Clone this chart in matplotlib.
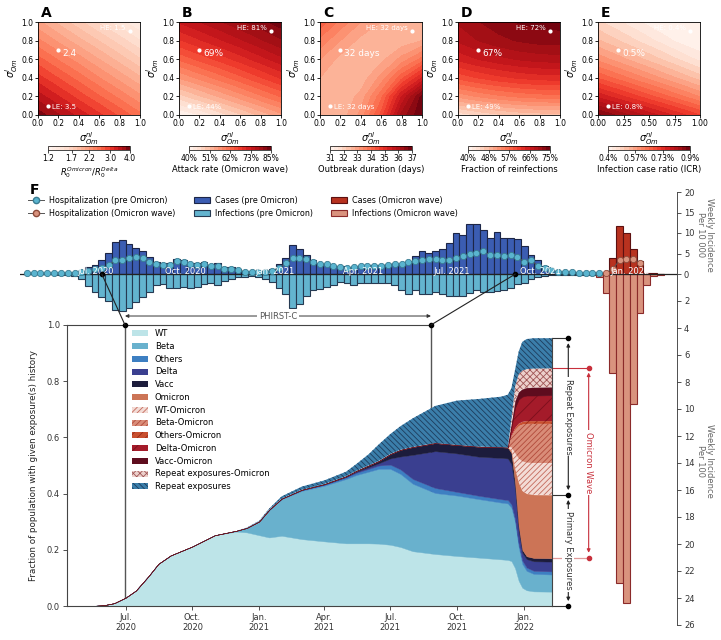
import datetime as dt
import numpy as np
import pandas as pd
import matplotlib
matplotlib.use("Agg")
import matplotlib.pyplot as plt
import matplotlib.dates as mdates
from matplotlib.patches import Patch, ConnectionPatch
from matplotlib.lines import Line2D

plt.rcParams["font.family"] = ["DejaVu Sans"]
plt.rcParams["hatch.linewidth"] = 0.6
plt.rcParams["axes.linewidth"] = 0.8

# ------------------------------------------------------------------ data A-E
sigma = [0.0, 0.2, 0.4, 0.6, 0.8, 1.0]          # grid (x: sigma_nl, y: sigma_l)
r0_ratio = [[3.89, 3.57, 3.27, 3.00, 2.75, 2.51],
            [3.44, 3.15, 2.88, 2.64, 2.42, 2.22],
            [3.03, 2.78, 2.55, 2.33, 2.14, 1.96],
            [2.68, 2.45, 2.25, 2.06, 1.89, 1.73],
            [2.36, 2.16, 1.98, 1.82, 1.67, 1.53],
            [2.09, 1.91, 1.75, 1.60, 1.47, 1.35]]
attack_rate = [[39.0, 42.2, 45.4, 48.6, 51.8, 55.0],
               [47.9, 50.9, 53.8, 56.8, 59.8, 62.7],
               [55.9, 58.6, 61.3, 64.0, 66.8, 69.5],
               [62.9, 65.4, 67.8, 70.3, 72.8, 75.3],
               [68.9, 71.2, 73.4, 75.6, 77.9, 80.1],
               [74.0, 76.0, 78.0, 80.0, 82.0, 84.0]]
outbreak_days = [[32.55, 32.60, 33.20, 34.40, 36.20, 37.00],
                 [32.60, 32.55, 32.90, 33.90, 35.50, 36.80],
                 [32.80, 32.55, 32.60, 33.20, 34.20, 35.20],
                 [33.10, 32.70, 32.55, 32.70, 33.20, 33.80],
                 [33.60, 33.10, 32.70, 32.55, 32.60, 32.80],
                 [34.20, 33.60, 33.10, 32.80, 32.60, 32.60]]
reinfection_pct = [[44.0, 45.4, 46.6, 47.4, 47.8, 48.0],
                   [52.7, 54.2, 55.3, 56.1, 56.6, 56.7],
                   [59.7, 61.1, 62.2, 63.0, 63.5, 63.7],
                   [64.9, 66.3, 67.4, 68.2, 68.7, 68.9],
                   [68.3, 69.8, 70.9, 71.7, 72.2, 72.3],
                   [70.0, 71.4, 72.6, 73.4, 73.8, 74.0]]
icr_pct = [[0.880, 0.844, 0.808, 0.772, 0.736, 0.700],
           [0.768, 0.734, 0.700, 0.666, 0.632, 0.598],
           [0.672, 0.640, 0.608, 0.576, 0.544, 0.512],
           [0.592, 0.562, 0.532, 0.502, 0.472, 0.442],
           [0.528, 0.500, 0.472, 0.444, 0.416, 0.388],
           [0.480, 0.454, 0.428, 0.402, 0.376, 0.350]]
scen_x = [0.1, 0.2, 0.9]
scen_y = [0.1, 0.7, 0.9]
ann_A = ["LE: 3.5", "2.4", "HE: 1.5"]
ann_B = ["LE: 44%", "69%", "HE: 81%"]
ann_C = ["LE: 32 days", "32 days", "HE: 32 days"]
ann_D = ["LE: 49%", "67%", "HE: 72%"]
ann_E = ["LE: 0.8%", "0.5%", "HE: 0.4%"]
cb_ticks_A = [1.2, 1.7, 2.2, 3.0, 4.0]
cb_labels_A = ["1.2", "1.7", "2.2", "3.0", "4.0"]
cb_ticks_B = [40, 51.25, 62.5, 73.75, 85]
cb_labels_B = ["40%", "51%", "62%", "73%", "85%"]
cb_ticks_C = [31, 32, 33, 34, 35, 36, 37]
cb_labels_C = ["31", "32", "33", "34", "35", "36", "37"]
cb_ticks_D = [40, 48.75, 57.5, 66.25, 75]
cb_labels_D = ["40%", "48%", "57%", "66%", "75%"]
cb_ticks_E = [0.4, 0.5667, 0.7333, 0.9]
cb_labels_E = ["0.4%", "0.57%", "0.73%", "0.9%"]

# ------------------------------------------------------------------ data F (bars)
week_start = "2020-04-21"
cases_pre = [0, 0, 0, 0, 0.05, 0.1, 0.15, 0.3,
             0.5, 1.6, 2.3, 3.5, 5.1, 7.8, 8.4, 7.2, 6.3, 5.5,
             4.1, 2.9, 2.5, 2.6, 3.7, 3.3, 2.8, 2.8, 3.0, 2.3,
             2.6, 1.6, 1.6, 1.3, 0.8, 0.6, 0.5, 0.7, 1.2, 2.5,
             3.9, 7.0, 6.2, 4.6, 3.5, 2.4, 2.4, 2.0, 1.9, 1.5,
             1.5, 2.0, 2.3, 2.3, 2.2, 2.3, 2.4, 2.3, 2.7, 4.3,
             5.7, 5.1, 5.7, 6.1, 7.6, 10.0, 9.4, 12.2, 12.2, 10.8,
             8.9, 10.2, 8.9, 8.9, 8.5, 6.9, 4.7, 3.5, 1.9, 0.8,
             0.4, 0.3, 0.2, 0.15, 0.1, 0.1, 0.1]
infections_pre = [0, 0, 0, 0, 0.02, 0.05, 0.08, 0.15,
                  0.37, 0.86, 1.36, 1.7, 2.0, 2.7, 2.77, 2.5, 2.1, 1.7,
                  1.3, 0.8, 0.75, 1.0, 1.04, 0.94, 1.0, 0.94, 0.74, 0.7,
                  0.8, 0.5, 0.37, 0.25, 0.2, 0.15, 0.25, 0.37, 0.6, 1.0,
                  1.5, 2.5, 2.2, 1.6, 1.2, 1.1, 0.94, 0.8, 0.6, 0.7,
                  0.8, 0.7, 0.7, 0.7, 0.7, 0.7, 0.8, 1.2, 1.5, 1.2,
                  1.5, 1.5, 1.3, 1.5, 1.65, 1.65, 1.65, 1.4, 1.2, 1.33,
                  1.3, 1.25, 1.2, 1.04, 0.74, 0.67, 0.35, 0.25, 0.17, 0.1,
                  0.06, 0.05, 0.05, 0.04, 0.04, 0.04, 0.04]
hosp_pre = [0.2, 0.2, 0.2, 0.2, 0.25, 0.3, 0.3, 0.35,
            0.5, 0.65, 1.2, 1.4, 2.1, 3.5, 3.5, 4.0, 4.1, 4.0,
            3.0, 2.5, 2.1, 2.2, 3.1, 2.9, 2.4, 2.3, 2.5, 2.0,
            2.0, 1.2, 1.1, 0.9, 0.6, 0.5, 0.5, 0.6, 0.8, 1.5,
            2.6, 4.0, 3.8, 3.6, 2.9, 2.4, 2.4, 2.0, 1.7, 1.5,
            1.7, 1.9, 1.9, 1.9, 2.0, 2.3, 2.5, 2.4, 2.9, 3.2,
            3.5, 3.7, 3.6, 3.5, 3.3, 4.0, 4.4, 4.9, 5.2, 5.6,
            4.6, 4.6, 4.3, 4.6, 4.2, 3.0, 3.4, 2.0, 1.4, 0.9,
            0.5, 0.5, 0.45, 0.3, 0.3, 0.3, 0.3]
cases_om = [0.2, 0.3, 3.9, 11.8, 10.0, 6.2, 3.1, 0.2, 0.15, 0.1]        # weeks 84-93
infections_om = [0.25, 1.4, 7.3, 22.9, 24.4, 9.6, 2.87, 0.84, 0.17, 0.1]
hosp_om = [0.3, 1.3, 3.3, 3.7, 3.7, 2.8]                                 # weeks 85-90

# ------------------------------------------------------------------ data F (exposure history)
exp_dates = ["2020-04-10", "2020-05-15", "2020-06-01", "2020-06-15", "2020-07-01",
             "2020-07-15", "2020-08-01", "2020-08-15", "2020-09-01", "2020-10-01",
             "2020-11-01", "2020-12-01", "2020-12-15", "2021-01-01", "2021-01-15",
             "2021-02-01", "2021-03-01", "2021-04-01", "2021-05-01", "2021-05-15",
             "2021-06-01", "2021-06-15", "2021-07-01", "2021-07-15", "2021-08-01",
             "2021-09-01", "2021-10-01", "2021-11-01", "2021-12-01", "2021-12-10",
             "2021-12-15", "2021-12-20", "2021-12-25", "2021-12-30", "2022-01-05",
             "2022-01-15", "2022-02-10"]
wt = [0, 0, .003, .010, .030, .055, .105, .150, .180, .212, .252, .265, .262, .252,
      .244, .250, .238, .230, .223, .223, .223, .222, .218, .210, .195, .185, .178,
      .172, .166, .164, .160, .135, .090, .065, .056, .052, .051]
beta = [0] * 11 + [.003, .016, .048, .098, .130, .172, .198, .229, .243, .255, .266,
                   .270, .260, .240, .217, .215, .208, .202, .201, .190, .165, .120,
                   .085, .069, .062, .061]
others = [0] * 13 + [.001, .001, .002, .003, .004, .006, .008, .010, .012, .015, .016,
                     .017, .018, .013, .012, .012, .012, .012, .010, .012, .012, .012,
                     .011, .011]
delta = [0] * 17 + [.001, .002, .004, .006, .008, .022, .046, .086, .131, .137, .139,
                    .147, .148, .143, .110, .048, .028, .030, .034, .035]
vacc = [0] * 16 + [.001, .001, .002, .003, .006, .008, .016, .024, .028, .029, .030,
                   .036, .038, .039, .040, .020, .015, .010, .010, .012, .012]
omicron = [0] * 30 + [.010, .050, .155, .210, .223, .225, .225]
wt_om = [0] * 30 + [.010, .055, .085, .105, .110, .113, .114]
beta_om = [0] * 30 + [.035, .080, .115, .130, .138, .139, .139]
others_om = [0] * 30 + [.005, .007, .008, .010, .010, .010, .010]
delta_om = [0] * 30 + [.030, .073, .087, .090, .091, .091, .092]
vacc_om = [0] * 30 + [.010, .025, .027, .027, .028, .029, .029]
repeat_om = [0] * 30 + [.020, .050, .063, .066, .066, .067, .067]
repeat = [0] * 12 + [.001, .002, .004, .008, .011, .013, .016, .024, .040, .059, .071,
                     .084, .102, .132, .158, .170, .180, .188, .110, .060, .080, .102,
                     .107, .108, .107]
layer_names = ["WT", "Beta", "Others", "Delta", "Vacc", "Omicron", "WT-Omicron",
               "Beta-Omicron", "Others-Omicron", "Delta-Omicron", "Vacc-Omicron",
               "Repeat exposures-Omicron", "Repeat exposures"]
phirst_main = ["2020-06-30", "2021-08-26"]
phirst_top = ["2020-07-07", "2021-09-05"]
repeat_levels = [0.953, 0.395, 0.0]
omicron_wave_levels = [0.848, 0.172]

# ------------------------------------------------------------------ figure
W, H = 721, 640
fig = plt.figure(figsize=(W / 100, H / 100), dpi=100)


def box(l, t, r, b):
    return [l / W, 1 - b / H, (r - l) / W, (b - t) / H]


def dnum(s):
    return mdates.date2num(pd.Timestamp(s).to_pydatetime())


panels = [
    ("A", r0_ratio, np.geomspace(1.2, 4.0, 21), cb_ticks_A, cb_labels_A,
     r"$R_0^{Omicron}/R_0^{Delta}$", ann_A),
    ("B", attack_rate, np.linspace(40, 85, 21), cb_ticks_B, cb_labels_B,
     "Attack rate (Omicron wave)", ann_B),
    ("C", outbreak_days, np.linspace(31, 37, 21), cb_ticks_C, cb_labels_C,
     "Outbreak duration (days)", ann_C),
    ("D", reinfection_pct, np.linspace(40, 75, 21), cb_ticks_D, cb_labels_D,
     "Fraction of reinfections", ann_D),
    ("E", icr_pct, np.linspace(0.4, 0.9, 21), cb_ticks_E, cb_labels_E,
     "Infection case ratio (ICR)", ann_E),
]
panel_left = [38, 179, 320, 458, 598]
for i, (letter, z, levels, cbt, cbl, cblabel, ann) in enumerate(panels):
    L = panel_left[i]
    a = fig.add_axes(box(L, 22, L + 102, 115))
    Z = np.clip(np.array(z, dtype=float), levels[0], levels[-1])
    cs = a.contourf(sigma, sigma, Z, levels=levels, cmap="Reds")
    a.scatter(scen_x, scen_y, s=9, color="white", zorder=3, linewidths=0)
    a.text(scen_x[0] + 0.04, scen_y[0] - 0.015, ann[0], color="white", fontsize=5,
           ha="left", va="center", zorder=4)
    a.text(scen_x[1] + 0.04, scen_y[1] - 0.035, ann[1], color="white", fontsize=6.5,
           ha="left", va="center", zorder=4)
    a.text(scen_x[2] - 0.04, scen_y[2] + 0.035, ann[2], color="white", fontsize=5,
           ha="right", va="center", zorder=4)
    a.set_xlim(0, 1)
    a.set_ylim(0, 1)
    if letter == "E":
        a.set_xticks([0, 0.25, 0.5, 0.75, 1.0])
        a.set_xticklabels(["0.00", "0.25", "0.50", "0.75", "1.00"])
    else:
        a.set_xticks(sigma)
        a.set_xticklabels([f"{v:.1f}" for v in sigma])
    a.set_yticks(sigma)
    a.set_yticklabels([f"{v:.1f}" for v in sigma])
    a.tick_params(labelsize=5.5, length=2, pad=1.2, width=0.6)
    for s in a.spines.values():
        s.set_linewidth(0.6)
    a.set_xlabel(r"$\sigma^{nl}_{Om}$", fontsize=7, labelpad=1)
    a.set_ylabel(r"$\sigma^{l}_{Om}$", fontsize=7, labelpad=1)
    fig.text((L + 3) / W, 1 - 13 / H, letter, fontsize=10, fontweight="bold",
             ha="left", va="center")
    cax = fig.add_axes(box(L + 10, 145.5, L + 92, 150))
    cb = fig.colorbar(cs, cax=cax, orientation="horizontal", ticks=cbt)
    cb.ax.set_xticklabels(cbl)
    cb.ax.tick_params(labelsize=5.5, length=2, pad=1, width=0.5)
    cb.outline.set_linewidth(0.5)
    cb.set_label(cblabel, fontsize=6, labelpad=1.5)

# ------------------------------------------------------------------ F: weekly incidence bars
K = 13.5 / 4.1  # vertical scale ratio between per-100 (below) and per-10 000 (above)
weeks = pd.date_range(week_start, periods=94, freq="7D")
bx = fig.add_axes(box(20, 192, 677, 625))
bx.patch.set_alpha(0)
bx.bar(weeks[:85], cases_pre, width=7, color="#3b5db2", edgecolor="#1d2647",
       linewidth=0.8, zorder=2)
bx.bar(weeks[:85], -np.array(infections_pre) * K, width=7, color="#63b4cf",
       edgecolor="#263a52", linewidth=0.8, zorder=2)
bx.bar(weeks[84:94], cases_om, width=7, color="#b8321f", edgecolor="#5c1010",
       linewidth=0.8, zorder=2)
bx.bar(weeks[84:94], -np.array(infections_om) * K, width=7, color="#d9937e",
       edgecolor="#8b2a2a", linewidth=0.8, zorder=2)
bx.axhline(0, color="#222222", lw=0.9, zorder=3)
bx.plot(weeks[:85], hosp_pre, "-o", color="#555555", lw=0.7, ms=4.5,
        mfc="#5ab4cf", mec="#3a7c92", mew=0.6, zorder=4)
bx.plot(weeks[85:91], hosp_om, "-o", color="#555555", lw=0.7, ms=4.5,
        mfc="#d9937e", mec="#8d4a3a", mew=0.6, zorder=4)
bx.set_xlim(dnum("2020-04-14"), dnum("2022-02-18"))
bx.set_ylim(-26 * K, 20)
bx.set_xticks([])
for s in ["left", "top", "bottom"]:
    bx.spines[s].set_visible(False)
bx.yaxis.set_ticks_position("right")
up_ticks = [0, 5, 10, 15, 20]
down_ticks = [2, 4, 6, 8, 10, 12, 14, 16, 18, 20, 22, 24, 26]
bx.set_yticks(up_ticks + [-v * K for v in down_ticks])
bx.set_yticklabels([str(v) for v in up_ticks] + [str(v) for v in down_ticks])
bx.tick_params(axis="y", labelsize=6, length=3, width=0.6, pad=2, colors="#333333")
bx.spines["right"].set_linewidth(0.6)
bx.spines["right"].set_color("#333333")
for d, lab in [("2020-07-01", "Jul. 2020"), ("2020-10-01", "Oct. 2020"),
               ("2021-01-01", "Jan. 2021"), ("2021-04-01", "Apr. 2021"),
               ("2021-07-01", "Jul. 2021"), ("2021-10-01", "Oct. 2021"),
               ("2022-01-01", "Jan. 2022")]:
    bx.text(dnum(d), 0.6, lab, color="white", fontsize=6, ha="center",
            va="center", zorder=5)
fig.text(705 / W, 1 - 235 / H, "Weekly Incidence\nPer 10 000", rotation=270,
         fontsize=6, color="#666666", ha="center", va="center", linespacing=1.0)
fig.text(705 / W, 1 - 461 / H, "Weekly Incidence\nPer 100", rotation=270,
         fontsize=6, color="#666666", ha="center", va="center", linespacing=1.0)
fig.text(30 / W, 1 - 190 / H, "F", fontsize=10, fontweight="bold", ha="left",
         va="center")
leg_handles = [
    Line2D([], [], color="#555555", lw=0.7, marker="o", ms=4.5, mfc="#5ab4cf",
           mec="#3a7c92", label="Hospitalization (pre Omicron)"),
    Line2D([], [], color="#555555", lw=0.7, marker="o", ms=4.5, mfc="#d9937e",
           mec="#8d4a3a", label="Hospitalization (Omicron wave)"),
    Patch(facecolor="#3b5db2", edgecolor="#1d2647", lw=0.8, label="Cases (pre Omicron)"),
    Patch(facecolor="#63b4cf", edgecolor="#263a52", lw=0.8,
          label="Infections (pre Omicron)"),
    Patch(facecolor="#b8321f", edgecolor="#5c1010", lw=0.8, label="Cases (Omicron wave)"),
    Patch(facecolor="#d9937e", edgecolor="#8b2a2a", lw=0.8,
          label="Infections (Omicron wave)"),
]
bx.legend(handles=leg_handles, loc="upper left", bbox_to_anchor=(28 / W, 1 - 196 / H),
          bbox_transform=fig.transFigure, ncol=3, frameon=False, fontsize=5.8,
          handlelength=2.0, handleheight=0.8, handletextpad=0.6, columnspacing=2.3,
          labelspacing=0.45, borderpad=0, borderaxespad=0)

# ------------------------------------------------------------------ F: exposure history
ax = fig.add_axes(box(67, 325, 552, 606))
xd = [dnum(d) for d in exp_dates]
layers = [wt, beta, others, delta, vacc, omicron, wt_om, beta_om, others_om,
          delta_om, vacc_om, repeat_om, repeat]
faces = ["#bde4e8", "#69b1cd", "#3d7fc2", "#3a3f90", "#1c1c3c", "#cc7456",
         "#f3dcd6", "#d98c78", "#c9502f", "#a41b2a", "#5e0c1e", "#ecd0cb", "#3b7eaa"]
hatches = [None, None, None, None, None, None, "//////", "//////", "////", "//",
           None, "xxxxx", "\\\\\\\\\\\\"]
hatch_cols = [None, None, None, None, None, None, "#c46a5c", "#b14a3a", "#9a2a18",
              "#7a0f1c", None, "#a05656", "#1d3c5c"]
polys = ax.stackplot(xd, *layers, colors=faces, zorder=1)
for poly, fc, h, hc in zip(polys, faces, hatches, hatch_cols):
    if h:
        poly.set_hatch(h)
        poly.set_edgecolor(hc)
        poly.set_linewidth(0)
    else:
        poly.set_edgecolor(fc)
        poly.set_linewidth(0.3)
xmin, xmax = dnum("2020-04-11"), dnum("2022-02-09")
ax.set_xlim(xmin, xmax)
ax.set_ylim(0, 1)
tick_d = ["2020-07-01", "2020-10-01", "2021-01-01", "2021-04-01", "2021-07-01",
          "2021-10-01", "2022-01-01"]
ax.set_xticks([dnum(d) for d in tick_d])
ax.set_xticklabels(["Jul.\n2020", "Oct.\n2020", "Jan.\n2021", "Apr.\n2021",
                    "Jul.\n2021", "Oct.\n2021", "Jan.\n2022"])
ax.set_yticks([0, 0.2, 0.4, 0.6, 0.8, 1.0])
ax.set_yticklabels(["0.0", "0.2", "0.4", "0.6", "0.8", "1.0"])
ax.tick_params(labelsize=6, length=3, width=0.6, pad=2, colors="#333333")
ax.set_ylabel("Fraction of population with given exposure(s) history", fontsize=6.3,
              labelpad=6, color="#222222")
for s in ax.spines.values():
    s.set_linewidth(0.8)
    s.set_color("#444444")
p0, p1 = dnum(phirst_main[0]), dnum(phirst_main[1])
ax.spines["top"].set_bounds(xmin, p1)
ax.spines["right"].set_bounds(0, repeat_levels[0])
for p in (p0, p1):
    ax.axvline(p, color="#555555", lw=1.0, zorder=0.5)
xt = ax.get_xaxis_transform()
ax.plot([p0, p1], [1, 1], "o", color="k", ms=3, transform=xt, clip_on=False, zorder=6)
ax.annotate("", xy=(p0, 1.032), xytext=(p1, 1.032), xycoords=xt, textcoords=xt,
            arrowprops=dict(arrowstyle="<|-|>", lw=0.7, color="#333333", shrinkA=0,
                            shrinkB=0, mutation_scale=5))
ax.text((p0 + p1) / 2, 1.032, "PHIRST-C", transform=xt, fontsize=6,
        color="#555555", ha="center", va="center",
        bbox=dict(fc="white", ec="none", pad=1.5))
t0, t1 = dnum(phirst_top[0]), dnum(phirst_top[1])
bx.plot([t0, t1], [0, 0], "o", color="k", ms=3, zorder=6, clip_on=False)
for tp, mp in ((t0, p0), (t1, p1)):
    con = ConnectionPatch(xyA=(tp, 0), coordsA=bx.transData,
                          xyB=(mp, 1.0), coordsB=xt, color="#222222",
                          lw=0.8, zorder=6)
    fig.add_artist(con)

# right-hand brackets
yt = ax.get_yaxis_transform()
xb, xr = 1.0336, 1.0756
for yv in repeat_levels:
    ax.plot([1.0, xb], [yv, yv], color="#333333", lw=0.8, transform=yt, clip_on=False)
ax.plot([xb] * 3, repeat_levels, "o", color="k", ms=3, transform=yt, clip_on=False,
        zorder=6)
ax.plot([1.0, xr], [omicron_wave_levels[0]] * 2, color="#c8303c", lw=0.8,
        transform=yt, clip_on=False)
ax.plot([1.0, xr], [omicron_wave_levels[1]] * 2, color="#e29a9a", lw=0.9,
        transform=yt, clip_on=False)
ax.plot([xr] * 2, omicron_wave_levels, "o", color="#c8303c", ms=3, transform=yt,
        clip_on=False, zorder=6)
for (ya, yb2), lab in (((repeat_levels[0], repeat_levels[1]), "Repeat Exposures"),
                       ((repeat_levels[1], repeat_levels[2]), "Primary Exposures")):
    ax.annotate("", xy=(xb, ya), xytext=(xb, yb2), xycoords=yt, textcoords=yt,
                arrowprops=dict(arrowstyle="<|-|>", lw=0.8, color="#222222",
                                shrinkA=3.5, shrinkB=3.5, mutation_scale=5))
    ax.text(xb, (ya + yb2) / 2, lab, rotation=270, transform=yt, fontsize=6,
            color="#333333", ha="center", va="center", zorder=7,
            bbox=dict(fc="white", ec="none", pad=1.2))
ax.annotate("", xy=(xr, omicron_wave_levels[0]), xytext=(xr, omicron_wave_levels[1]),
            xycoords=yt, textcoords=yt,
            arrowprops=dict(arrowstyle="<|-|>", lw=0.8, color="#c8303c", shrinkA=3.5,
                            shrinkB=3.5, mutation_scale=5))
ax.text(xr, sum(omicron_wave_levels) / 2, "Omicron Wave", rotation=270, transform=yt,
        fontsize=6, color="#c8303c", ha="center", va="center", zorder=7,
        bbox=dict(fc="white", ec="none", pad=1.2))

leg2 = [Patch(facecolor=fc, edgecolor=(hc if h else fc), hatch=h, lw=0, label=n)
        for fc, h, hc, n in zip(faces, hatches, hatch_cols, layer_names)]
ax.legend(handles=leg2, loc="upper left", bbox_to_anchor=(0.133, 0.985), frameon=False,
          fontsize=6, handlelength=2.0, handleheight=0.75, handletextpad=0.8,
          labelspacing=0.45, borderpad=0, borderaxespad=0)

fig.savefig("out.png", dpi=100)
